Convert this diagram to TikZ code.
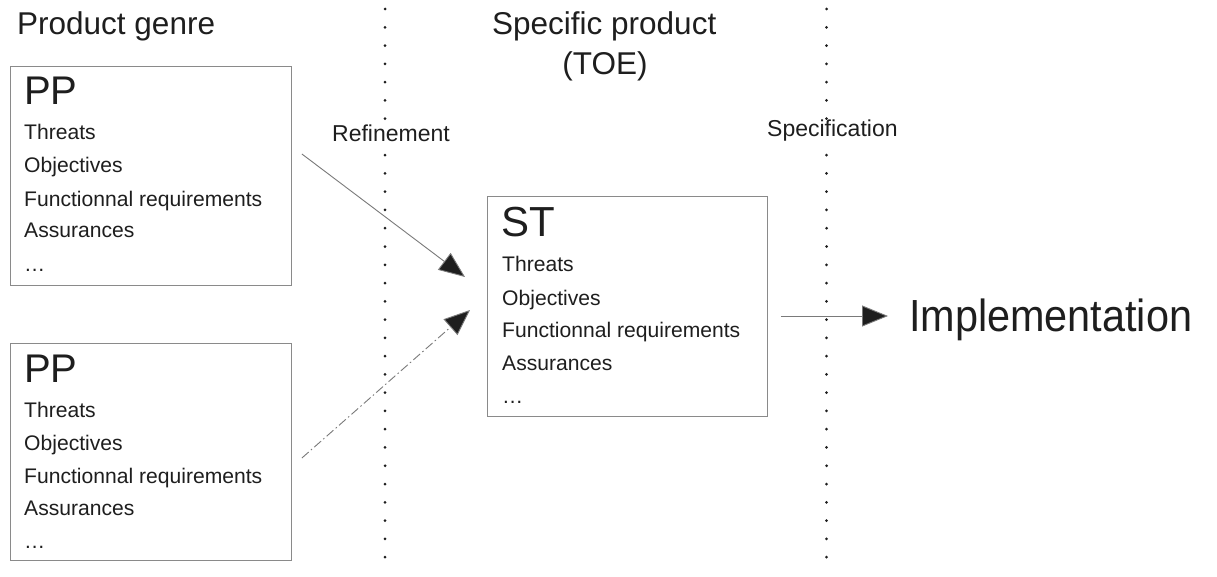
\documentclass[tikz,border=0pt]{standalone}
\usepackage{fontspec}
\setmainfont{Liberation Sans}
\usetikzlibrary{arrows.meta}
\definecolor{ink}{HTML}{1E1E1E}
\definecolor{boxline}{HTML}{8A8A8A}
\definecolor{arrline}{HTML}{7A7A7A}
\tikzset{
  box/.style={draw=boxline, line width=0.9pt, inner sep=0pt, anchor=north west},
  txt/.style={anchor=base west, inner sep=0pt, text=ink},
  item/.style={txt, font=\fontsize{21.1}{24}\selectfont},
  big/.style={txt, font=\fontsize{40}{44}\selectfont},
  head/.style={txt, font=\fontsize{31.5}{36}\selectfont},
  lab/.style={anchor=base west, inner xsep=1pt, inner ysep=0pt, fill=white, text=ink, font=\fontsize{23}{26}\selectfont},
  sep/.style={draw=ink, line width=3pt, line cap=round, dash pattern=on 0pt off 18.27pt},
  arr/.style={draw=arrline, line width=0.9pt, -{Triangle[length=26pt,width=21pt,fill=ink]}},
}
\begin{document}
\begin{tikzpicture}[x=1pt,y=-1pt]
\useasboundingbox[fill=white] (0,0) rectangle (1217,577);

% separators
\draw[sep] (385,9) -- (385,575);
\draw[sep] (826.5,9) -- (826.5,575);

% headers
\node[head] (hpg) at (17,35) {Product genre};
\node[head] (hsp) at (492,35) {Specific product};
\node[head, anchor=base] (htoe) at (605,75) {(TOE)};
\node[lab] (lref) at (331,141.5) {Refinement};
\node[lab] (lspec) at (766,137) {Specification};

% box 1
\node[box, minimum width=281pt, minimum height=219pt] (pp1) at (10,66) {};
\node[big] (pp1t) at (24,105) {PP};
\node[item] (pp1a) at (24,140) {Threats};
\node[item] (pp1b) at (24,173) {Objectives};
\node[item] (pp1c) at (24,206.5) {Functionnal requirements};
\node[item] (pp1d) at (24,238) {Assurances};
\node[item] (pp1e) at (24,271) {\dots};

% box 2
\node[box, minimum width=281pt, minimum height=217pt] (pp2) at (10,343) {};
\node[big] (pp2t) at (24,382) {PP};
\node[item] (pp2a) at (24,417) {Threats};
\node[item] (pp2b) at (24,450) {Objectives};
\node[item] (pp2c) at (24,483) {Functionnal requirements};
\node[item] (pp2d) at (24,515) {Assurances};
\node[item] (pp2e) at (24,548) {\dots};

% ST box
\node[box, minimum width=280pt, minimum height=220pt] (st) at (487,196) {};
\node[big, font=\fontsize{42}{46}\selectfont] (stt) at (501,236.5) {ST};
\node[item] (sta) at (502,271.5) {Threats};
\node[item] (stb) at (502,305) {Objectives};
\node[item] (stc) at (502,337) {Functionnal requirements};
\node[item] (std) at (502,370) {Assurances};
\node[item] (ste) at (502,403) {\dots};

% implementation
\node[txt] (impl) at (909,331) {\scalebox{0.92}[1]{\fontsize{45}{50}\selectfont Implementation}};

% connectors
\coordinate (a1s) at ([shift={(10pt,-88pt)}]pp1.north east);
\coordinate (a1e) at ([shift={(-22pt,-81pt)}]st.north west);
\coordinate (a2s) at ([shift={(10pt,-115pt)}]pp2.north east);
\coordinate (a2e) at ([shift={(-17pt,-114pt)}]st.north west);
\coordinate (a3s) at ([shift={(13pt,-120pt)}]st.north east);
\coordinate (a3e) at ([shift={(-21pt,15pt)}]impl.base west);
\draw[arr] (a1s) -- (a1e);
\draw[arr, dash pattern=on 9pt off 3pt on 1.5pt off 3pt] (a2s) -- (a2e);
\draw[arr] (a3s) -- (a3e);
\end{tikzpicture}
\end{document}
